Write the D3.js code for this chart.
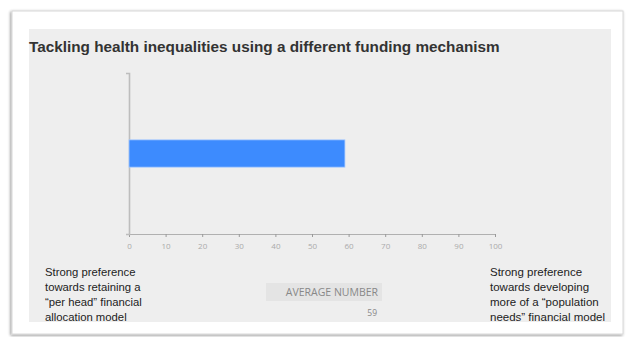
<!DOCTYPE html>
<html><head><meta charset="utf-8">
<script src="https://cdn.jsdelivr.net/npm/d3@7"></script>
<style>body{margin:0;background:#fff}svg{display:block}</style>
</head><body>
<script>
const categories = ["Average"];
const values = [59];
const xTicks = [0,10,20,30,40,50,60,70,80,90,100];
const title = "Tackling health inequalities using a different funding mechanism";
const leftLabel = ["Strong preference","towards retaining a","\u201cper head\u201d financial","allocation model"];
const rightLabel = ["Strong preference","towards developing","more of a \u201cpopulation","needs\u201d financial model"];
const avgLabel = "AVERAGE NUMBER";

const W = 629, H = 337;
const svg = d3.select("body").append("svg").attr("width", W).attr("height", H);
const defs = svg.append("defs");
const f = defs.append("filter").attr("id","sh").attr("x","-5%").attr("y","-5%").attr("width","110%").attr("height","110%");
f.append("feGaussianBlur").attr("in","SourceAlpha").attr("stdDeviation",1.5);
f.append("feOffset").attr("dx",-1).attr("dy",1).attr("result","b");
f.append("feComponentTransfer").append("feFuncA").attr("type","linear").attr("slope",0.45);
const m = f.append("feMerge"); m.append("feMergeNode"); m.append("feMergeNode").attr("in","SourceGraphic");

svg.append("rect").attr("x",12).attr("y",11).attr("width",611).attr("height",323)
  .attr("fill","#fff").attr("stroke","#d8d8d8").attr("stroke-width",1).attr("filter","url(#sh)");
svg.append("rect").attr("x",29).attr("y",29).attr("width",582).attr("height",293).attr("fill","#eeeeee");

svg.append("text").attr("x",29).attr("y",52).text(title)
  .attr("font-family","Liberation Sans, Arial, sans-serif").attr("font-weight","bold")
  .attr("font-size",15.3).attr("fill","#333");

const x = d3.scaleLinear().domain([0,100]).range([129,495]);
const y = d3.scaleBand().domain(categories).range([73,234]).paddingInner(0).paddingOuter(2.45);

const xa = svg.append("g").attr("transform","translate(0,234)")
  .call(d3.axisBottom(x).tickValues(xTicks).tickSize(3).tickSizeOuter(0).tickPadding(6));
xa.select(".domain").attr("stroke","#b0b0b0").attr("stroke-width",1.2);
xa.selectAll(".tick line").attr("stroke","#999");
xa.selectAll("text").attr("fill","#aaa").attr("font-size",8).attr("font-family","Open Sans, sans-serif");

const ya = svg.append("g").attr("transform","translate(129,0)")
  .call(d3.axisLeft(y).tickValues([]).tickSizeOuter(3));
ya.select(".domain").attr("stroke","#bdbdbd").attr("stroke-width",1.6);

svg.append("g").selectAll("rect").data(values).join("rect")
  .attr("x", x(0)).attr("y", (d,i)=>y(categories[i]))
  .attr("width", d=>x(d)-x(0)).attr("height", y.bandwidth())
  .attr("fill","#3d8bfe").attr("stroke","#a9cbff").attr("stroke-width",0.8);

const tf = "Liberation Sans, Arial, sans-serif";
svg.append("g").selectAll("text").data(leftLabel).join("text")
  .attr("x",45).attr("y",(d,i)=>276+i*15).text(d=>d)
  .attr("font-family",tf).attr("font-size",11.3).attr("fill","#222");
svg.append("g").selectAll("text").data(rightLabel).join("text")
  .attr("x",490).attr("y",(d,i)=>276+i*15).text(d=>d)
  .attr("font-family",tf).attr("font-size",11.5).attr("fill","#222");

svg.append("rect").attr("x",266).attr("y",283).attr("width",116).attr("height",18).attr("fill","#e4e4e4");
svg.append("text").attr("x",378).attr("y",296).attr("text-anchor","end").text(avgLabel)
  .attr("font-family","Open Sans, sans-serif").attr("font-size",10.5).attr("fill","#888");
svg.append("text").attr("x",377).attr("y",316).attr("text-anchor","end").text(values[0])
  .attr("font-family","Open Sans, sans-serif").attr("font-size",8.5).attr("fill","#888");
</script>
</body></html>
